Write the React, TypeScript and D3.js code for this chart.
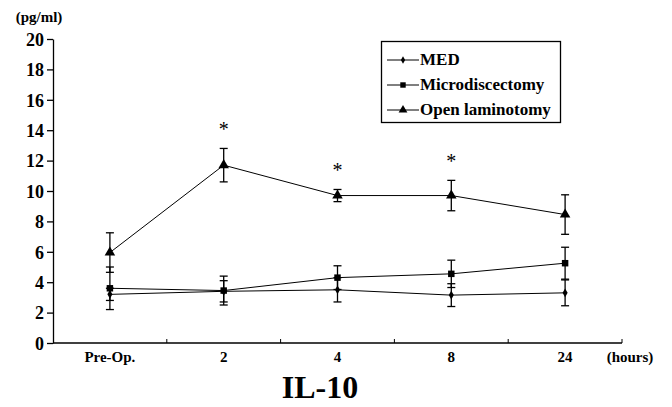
import React, { useEffect, useRef } from 'react';
import * as d3 from 'd3';

const categories = ['Pre-Op.', '2', '4', '8', '24'];
const medValues = [3.2, 3.4, 3.5, 3.15, 3.3];
const medErrors = [0.4, 0.7, 0.8, 0.75, 0.85];
const microValues = [3.6, 3.45, 4.3, 4.55, 5.25];
const microErrors = [1.4, 0.95, 0.78, 0.9, 1.05];
const openValues = [5.95, 11.7, 9.7, 9.7, 8.45];
const openErrors = [1.3, 1.1, 0.4, 1.0, 1.3];
const significant = [false, true, true, true, false];
const yTicks = [0, 2, 4, 6, 8, 10, 12, 14, 16, 18, 20];
const seriesNames = ['MED', 'Microdiscectomy', 'Open laminotomy'];

const font = "'Liberation Serif', 'DejaVu Serif', serif";

const App = () => {
  const svgRef = useRef<SVGSVGElement>(null);

  useEffect(() => {
    const width = 672;
    const height = 407;
    const left = 53, right = 622, top = 39, bottom = 343;
    const svg = d3.select(svgRef.current).attr('width', width).attr('height', height)
      .style('font-family', font);
    svg.selectAll('*').remove();

    const x = d3.scaleBand().domain(categories).range([left, right]);
    const y = d3.scaleLinear().domain([0, 20]).range([bottom, top]);
    const cx = (c: string) => (x(c) as number) + x.bandwidth() / 2;

    const txt = (sel: any, size: number, bold = true) =>
      sel.style('font-family', font).style('font-weight', bold ? 'bold' : 'normal')
        .style('font-size', `${size}px`).attr('fill', '#000');

    // y axis
    const yAxis = d3.axisLeft(y).tickValues(yTicks).tickSize(6).tickPadding(3).tickSizeOuter(0);
    const gy = svg.append('g').attr('transform', `translate(${left},0)`).call(yAxis);
    gy.attr('font-family', null).attr('font-size', null);
    gy.select('.domain').attr('stroke', '#000').attr('stroke-width', 1.3);
    gy.selectAll('.tick line').attr('stroke', '#000').attr('stroke-width', 1.3);
    txt(gy.selectAll('.tick text').attr('dy', '0.35em'), 18);

    // x axis: line with inward ticks at band boundaries
    svg.append('line').attr('x1', left).attr('x2', right).attr('y1', bottom).attr('y2', bottom)
      .attr('stroke', '#000').attr('stroke-width', 1.3);
    const bounds = categories.map(c => x(c) as number).concat([right]);
    svg.selectAll('.xtick').data(bounds.slice(1)).join('line')
      .attr('x1', d => d).attr('x2', d => d).attr('y1', bottom).attr('y2', bottom - 4)
      .attr('stroke', '#000');
    txt(svg.selectAll('.xlabel').data(categories).join('text')
      .attr('x', d => cx(d)).attr('y', bottom + 19)
      .attr('text-anchor', 'middle')
      .text(d => d), 15);

    txt(svg.append('text').attr('x', 39).attr('y', 22).attr('text-anchor', 'middle')
      .text('(pg/ml)'), 15);
    txt(svg.append('text').attr('x', 630).attr('y', bottom + 19).attr('text-anchor', 'middle')
      .text('(hours)'), 15);
    txt(svg.append('text').attr('x', 320).attr('y', 398).attr('text-anchor', 'middle')
      .text('IL-10'), 32);

    const series = [
      { name: seriesNames[0], values: medValues, errors: medErrors, symbol: d3.symbolDiamond, size: 22 },
      { name: seriesNames[1], values: microValues, errors: microErrors, symbol: d3.symbolSquare, size: 42 },
      { name: seriesNames[2], values: openValues, errors: openErrors, symbol: d3.symbolTriangle, size: 48 },
    ];

    const line = d3.line<number>().x((_, i) => cx(categories[i])).y(d => y(d));

    series.forEach(s => {
      const g = svg.append('g');
      s.values.forEach((v, i) => {
        const px = cx(categories[i]);
        const y1 = y(v + s.errors[i]);
        const y2 = y(v - s.errors[i]);
        g.append('line').attr('x1', px).attr('x2', px).attr('y1', y1).attr('y2', y2)
          .attr('stroke', '#000').attr('stroke-width', 1.3);
        [y1, y2].forEach(yy => g.append('line').attr('x1', px - 4).attr('x2', px + 4)
          .attr('y1', yy).attr('y2', yy).attr('stroke', '#000').attr('stroke-width', 1.3));
      });
      g.append('path').attr('d', line(s.values) as string).attr('fill', 'none')
        .attr('stroke', '#000').attr('stroke-width', 1);
      g.selectAll('.pt').data(s.values).join('path')
        .attr('transform', (d, i) => `translate(${cx(categories[i])},${y(d)})`)
        .attr('d', d3.symbol().type(s.symbol).size(s.size)() as string)
        .attr('fill', '#000');
    });

    // significance asterisks
    openValues.forEach((v, i) => {
      if (!significant[i]) return;
      txt(svg.append('text').attr('x', cx(categories[i])).attr('y', y(v + openErrors[i]) - 12)
        .attr('text-anchor', 'middle').text('*'), 20, false);
    });

    // legend
    const lg = svg.append('g');
    lg.append('rect').attr('x', 381.5).attr('y', 41.5).attr('width', 179).attr('height', 81)
      .attr('fill', '#fff').attr('stroke', '#000').attr('stroke-width', 1.3);
    series.forEach((s, i) => {
      const ly = 60 + i * 25;
      lg.append('line').attr('x1', 387).attr('x2', 419).attr('y1', ly).attr('y2', ly)
        .attr('stroke', '#000');
      lg.append('path').attr('transform', `translate(403,${ly})`)
        .attr('d', d3.symbol().type(s.symbol).size(s.size * 0.7)() as string).attr('fill', '#000');
      txt(lg.append('text').attr('x', 420).attr('y', ly + 5).text(s.name), 17);
    });
  }, []);

  return <svg ref={svgRef} style={{ position: 'absolute', left: 0, top: 0 }}></svg>;
};

export default App;
